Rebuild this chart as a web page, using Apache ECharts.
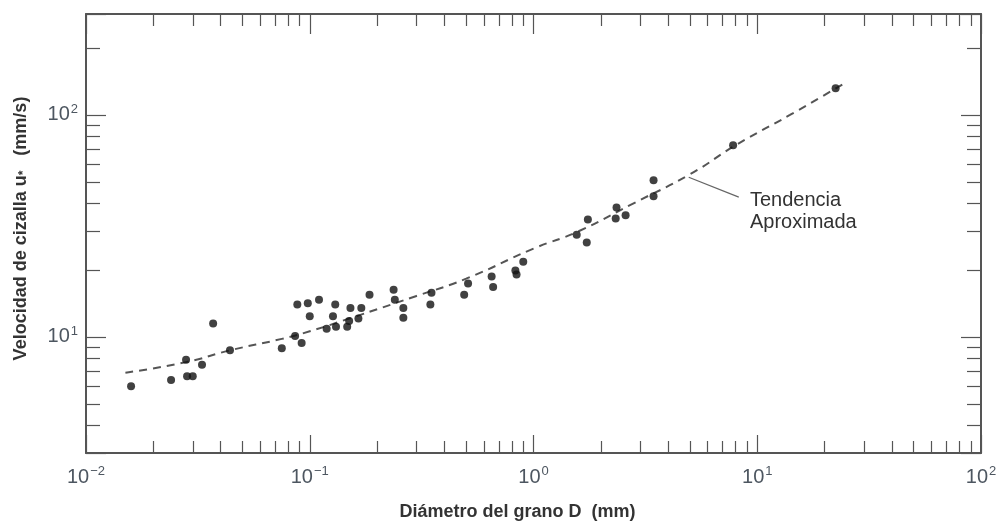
<!DOCTYPE html>
<html>
<head>
<meta charset="utf-8">
<script src="https://cdn.jsdelivr.net/npm/echarts@6/dist/echarts.min.js"></script>
<style>
html, body { margin: 0; background: #fff; }
#chart { width: 1005px; height: 529px; }
</style>
</head>
<body>
<div id="chart"></div>
<script>
// grain diameter D (mm) and shear velocity u* (mm/s) of the measured points
const grainDiameter = [
    0.0159, 0.024, 0.028, 0.0283, 0.030, 0.033, 0.037, 0.044,
    0.075, 0.086, 0.092, 0.088, 0.098, 0.11, 0.10, 0.119, 0.131, 0.147,
    0.13, 0.127, 0.152, 0.17, 0.165, 0.15, 0.185, 0.237, 0.24, 0.262, 0.262,
    0.35, 0.346, 0.51, 0.49, 0.65, 0.66, 0.90, 0.83, 0.84,
    1.56, 1.75, 1.73, 2.35, 2.33, 2.58, 3.44, 3.44, 7.8, 22.4
]
const shearVelocity = [
    6.0, 6.4, 7.9, 6.65, 6.65, 7.5, 11.5, 8.7,
    8.9, 10.1, 9.4, 14.0, 14.2, 14.7, 12.4, 10.9, 11.1, 11.1,
    14.0, 12.4, 13.5, 13.5, 12.1, 11.8, 15.5, 16.3, 14.7, 13.5, 12.2,
    15.8, 14.0, 17.4, 15.5, 18.7, 16.8, 21.8, 19.9, 19.1,
    28.9, 33.8, 26.6, 38.3, 34.2, 35.3, 50.8, 43.0, 73, 132
]

// approximate trend curve
const trendDiameter = [0.015, 0.028, 0.044, 0.075, 0.1, 0.15, 0.3, 0.5, 1.0, 1.6, 2.8, 5, 8, 14, 24]
const trendVelocity = [6.9, 7.7, 8.7, 9.8, 10.6, 12.1, 15.3, 18.3, 25, 30, 40, 54, 73, 100, 137]

// leader line of the annotation, in data units
const leaderStart = [4.94, 52.4]
const leaderEnd = [8.27, 42.6]

const xRange = [0.01, 100]
const yRange = [3, 285]

const axisColor = '#555'

const isPow10 = function (v) {
    const e = Math.log10(v)
    return Math.abs(e - Math.round(e)) < 1e-6
}

const powLabel = function (v) {
    if (!isPow10(v)) {
        return ''
    }
    const e = Math.round(Math.log10(v))
    return '{b|10}{s|' + String(e).replace('-', '\u2212') + '}'
}

const labelRich = {
    b: { fontSize: 20, color: '#4d5660', fontFamily: 'Liberation Sans', lineHeight: 24, verticalAlign: 'middle' },
    s: { fontSize: 13, color: '#4d5660', fontFamily: 'Liberation Sans', lineHeight: 24, verticalAlign: 'top', padding: [0, 0, 0, 1] }
}

const makeAxis = function (range, pos, showLabel, major, minor, extra) {
    return Object.assign({
        type: 'log',
        logBase: 10,
        min: range[0],
        max: range[1],
        position: pos,
        axisLine: { show: true, lineStyle: { color: axisColor, width: 2 } },
        axisTick: { show: true, inside: true, length: major, lineStyle: { color: axisColor, width: 1.2 } },
        minorTick: { show: true, splitNumber: 9, length: minor, lineStyle: { color: axisColor, width: 1.2 } },
        splitLine: { show: false },
        minorSplitLine: { show: false },
        axisLabel: {
            show: showLabel,
            formatter: powLabel,
            rich: labelRich
        }
    }, extra || {})
}

const chart = echarts.init(document.getElementById('chart'))

const points = grainDiameter.map((d, i) => [d, shearVelocity[i]])
const trend = trendDiameter.map((d, i) => [d, trendVelocity[i]])

const option = {
    backgroundColor: '#fff',
    animation: false,
    grid: {
        left: 86,
        right: 24,
        top: 14,
        bottom: 76
    },
    xAxis: [
        makeAxis(xRange, 'bottom', true, 18, 12, {
            name: 'Diámetro del grano D  (mm)',
            nameLocation: 'middle',
            nameGap: 50,
            nameTextStyle: {
                fontSize: 18,
                fontWeight: 'bold',
                color: '#333',
                fontFamily: 'Liberation Sans',
                padding: [0, 32, 0, 0]
            },
            axisLabel: { show: true, formatter: powLabel, rich: labelRich, margin: 12 }
        }),
        makeAxis(xRange, 'top', false, 20, 12)
    ],
    yAxis: [
        makeAxis(yRange, 'left', true, 20, 14, {
            name: 'Velocidad de cizalla u{sub|*}   (mm/s)',
            nameLocation: 'middle',
            nameGap: 56,
            nameTextStyle: {
                fontSize: 18,
                fontWeight: 'bold',
                color: '#333',
                fontFamily: 'Liberation Sans',
                padding: [0, 0, 0, 10],
                rich: {
                    sub: { fontSize: 12, fontWeight: 'bold', color: '#333', verticalAlign: 'bottom', padding: [6, 0, 0, 0] }
                }
            },
            axisLabel: { show: true, formatter: powLabel, rich: labelRich, margin: 8 }
        }),
        makeAxis(yRange, 'right', false, 20, 14)
    ],
    series: [
        {
            name: 'Tendencia',
            type: 'line',
            data: trend,
            smooth: true,
            showSymbol: false,
            silent: true,
            lineStyle: { color: '#555', width: 2, type: [8, 6] },
            markLine: {
                silent: true,
                symbol: ['none', 'none'],
                label: { show: false },
                lineStyle: { color: '#666', width: 1.3, type: 'solid' },
                data: [[{ coord: leaderStart }, { coord: leaderEnd }]]
            },
            z: 2
        },
        {
            name: 'Datos',
            type: 'scatter',
            data: points,
            symbol: 'circle',
            symbolSize: 8,
            itemStyle: { color: '#111' },
            z: 3
        }
    ],
    graphic: [
        {
            type: 'text',
            left: 750,
            top: 189,
            style: {
                text: 'Tendencia\nAproximada',
                fill: '#333',
                font: '20px "Liberation Sans"',
                lineHeight: 22
            }
        }
    ]
}

chart.setOption(option)
</script>
</body>
</html>
